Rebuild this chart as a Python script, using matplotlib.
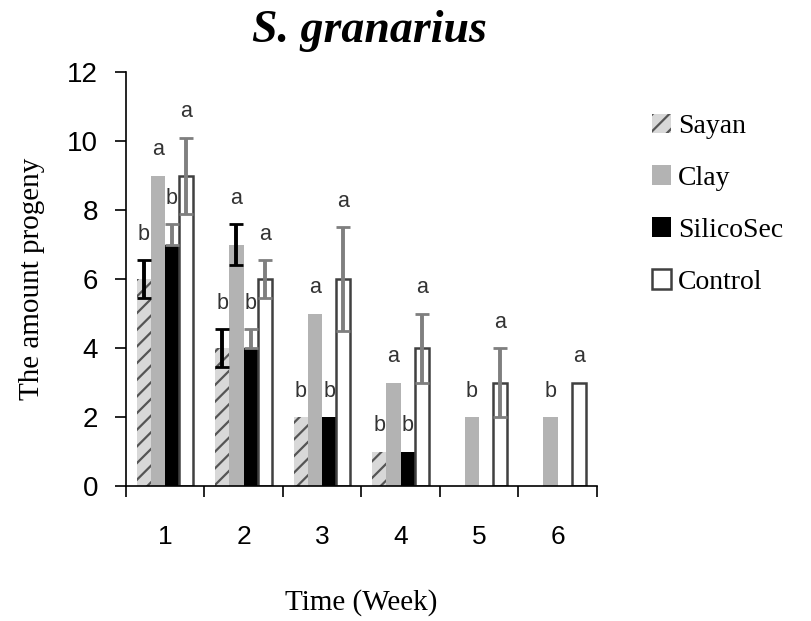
import numpy as np
import matplotlib.pyplot as plt
from matplotlib.patches import Patch

# data
weeks = [1, 2, 3, 4, 5, 6]
series = ['Sayan', 'Clay', 'SilicoSec', 'Control']

sayan = [6, 4, 2, 1, 0, 0]
clay = [9, 7, 5, 3, 2, 2]
silicosec = [7, 4, 2, 1, 0, 0]
control = [9, 6, 6, 4, 3, 3]

# error bars (lower, upper)
sayan_err_lo = [0.55, 0.55, 0, 0, 0, 0]
sayan_err_hi = [0.55, 0.55, 0, 0, 0, 0]
clay_err_lo = [0, 0.6, 0, 0, 0, 0]
clay_err_hi = [0, 0.6, 0, 0, 0, 0]
silico_err_lo = [0, 0, 0, 0, 0, 0]
silico_err_hi = [0.6, 0.55, 0, 0, 0, 0]
control_err_lo = [1.1, 0.55, 1.5, 1.0, 1.0, 0]
control_err_hi = [1.1, 0.55, 1.5, 1.0, 1.0, 0]

# significance letters
sayan_lbl = ['b', 'b', 'b', 'b', '', '']
clay_lbl = ['a', 'a', 'a', 'a', 'b', 'b']
silico_lbl = ['b', 'b', 'b', 'b', '', '']
control_lbl = ['a', 'a', 'a', 'a', 'a', 'a']

serif = ['Liberation Serif', 'DejaVu Serif']
sans = ['Liberation Sans', 'DejaVu Sans']

plt.rcParams['hatch.linewidth'] = 1.6
plt.rcParams['hatch.color'] = '#555555'

fig = plt.figure(figsize=(8.11, 6.21), dpi=100)
ax = fig.add_axes([0.155, 0.217, 0.581, 0.667])

x = np.array(weeks, dtype=float)
w = 0.18
offsets = [-0.27, -0.09, 0.09, 0.27]

vals = [sayan, clay, silicosec, control]
lo = [sayan_err_lo, clay_err_lo, silico_err_lo, control_err_lo]
hi = [sayan_err_hi, clay_err_hi, silico_err_hi, control_err_hi]
lbls = [sayan_lbl, clay_lbl, silico_lbl, control_lbl]
face = ['#d8d8d8', '#b3b3b3', '#000000', '#ffffff']
edge = ['#555555', '#b3b3b3', '#000000', '#404040']
hatch = ['//', None, None, None]
ecol = ['#000000', '#000000', '#7f7f7f', '#7f7f7f']
lw = [0, 0, 0, 1.8]

for i in range(4):
    xs = x + offsets[i]
    v = np.array(vals[i], dtype=float)
    bars = ax.bar(xs, v, w, color=face[i], edgecolor=edge[i], hatch=hatch[i],
                  linewidth=lw[i], zorder=2)
    l = np.array(lo[i])
    h = np.array(hi[i])
    m = (l + h) > 0
    if m.any():
        ax.errorbar(xs[m], v[m], yerr=[l[m], h[m]], fmt='none', ecolor=ecol[i],
                    elinewidth=2.8, capsize=5, capthick=2, zorder=3)
    for j in range(len(xs)):
        if lbls[i][j]:
            top = v[j] + h[j]
            ax.text(xs[j], top + 0.75, lbls[i][j], ha='center', va='center',
                    fontsize=15.5, color='#333333', family=sans)

ax.set_xlim(0.5, 6.5)
ax.set_ylim(0, 12)
ax.set_yticks(range(0, 13, 2))
ax.set_xticks(weeks)
ax.set_xticks(np.arange(0.5, 7, 1), minor=True)
ax.tick_params(axis='x', which='major', length=0, pad=28, labelsize=19)
ax.tick_params(axis='x', which='minor', length=8, width=1.2, direction='out')
ax.tick_params(axis='y', length=8, width=1.2, direction='out', labelsize=20, pad=12)
for t in ax.get_xticklabels() + ax.get_yticklabels():
    t.set_family(sans)
ax.spines['top'].set_visible(False)
ax.spines['right'].set_visible(False)
ax.spines['left'].set_linewidth(1.2)
ax.spines['bottom'].set_linewidth(1.2)

ax.set_xlabel('Time (Week)', fontsize=21, family=serif, labelpad=29)
ax.set_ylabel('The amount progeny', fontsize=21, family=serif, labelpad=16)
fig.text(0.456, 0.95, 'S. granarius', ha='center', va='center', fontsize=33,
         fontweight='bold', fontstyle='italic', family=serif)

handles = [Patch(facecolor=face[i], edgecolor=edge[i], hatch=hatch[i],
                 linewidth=1.8 if i == 3 else 0) for i in range(4)]
leg = fig.legend(handles, series, loc='upper left', bbox_to_anchor=(0.79, 0.835),
                 frameon=False, prop={'family': serif, 'size': 20},
                 handlelength=0.7, handleheight=0.7, handletextpad=0.25,
                 labelspacing=0.95, borderaxespad=0)

fig.savefig('out.png', dpi=100)
